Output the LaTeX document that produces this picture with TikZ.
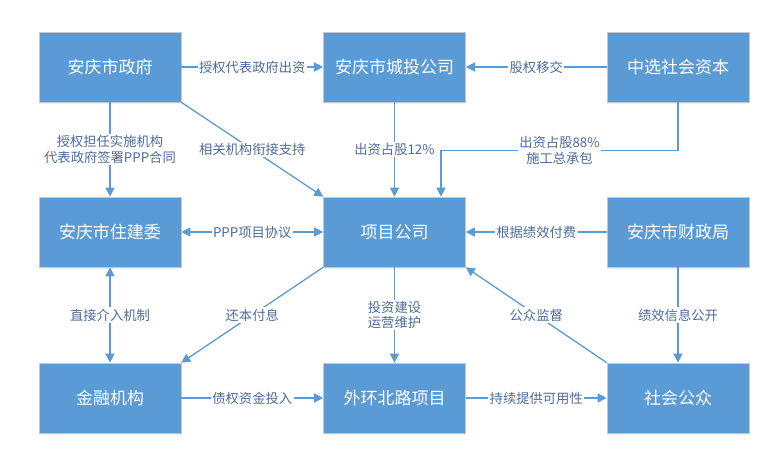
\documentclass[tikz,border=0pt]{standalone}
\usepackage{fontspec}
\setmainfont{Noto Sans CJK SC}
\usepackage{xcolor}
\usetikzlibrary{positioning,arrows.meta,shadows,calc}

\definecolor{boxblue}{HTML}{5B9BD5}
\definecolor{boxline}{HTML}{C0C8D2}
\definecolor{lbltext}{HTML}{4E6B9C}

\tikzset{
  party/.style={rectangle, fill=boxblue, draw=boxline, line width=0.6pt,
    minimum width=142pt, minimum height=70pt, inner sep=0pt,
    text=white, font=\fontsize{17}{20}\selectfont,
    drop shadow={opacity=0.12, shadow xshift=0pt, shadow yshift=-2pt}},
  flow/.style={draw=boxblue, line width=1.3pt,
    -{Triangle[length=9pt,width=9pt]}},
  twoway/.style={flow, {Triangle[length=9pt,width=9pt]}-{Triangle[length=9pt,width=9pt]}},
  tag/.style={fill=white, inner sep=1.5pt, text=lbltext, align=center,
    font=\fontsize{13.3}{15.5}\selectfont}
}

\begin{document}
\begin{tikzpicture}[x=1pt, y=-1pt]
  \useasboundingbox (0,0) rectangle (780,466);

  % Parties
  \node[party] (gov)  at (110, 67)   {安庆市政府};
  \node[party] (ctic) at (394.5, 67) {安庆市城投公司};
  \node[party] (soc)  at (678, 67)   {中选社会资本};
  \node[party] (hud)  at (110, 232)  {安庆市住建委};
  \node[party] (spv)  at (394.5, 232) {项目公司};
  \node[party] (fin)  at (678, 232)  {安庆市财政局};
  \node[party] (bank) at (110, 398)  {金融机构};
  \node[party] (road) at (394.5, 398) {外环北路项目};
  \node[party] (pub)  at (678, 398)  {社会公众};

  % Top row
  \draw[flow] (gov) -- (ctic) node[tag, midway] {授权代表政府出资};
  \draw[flow] (soc) -- (ctic) node[tag, midway] {股权移交};

  % Top to middle
  \draw[flow] (gov) -- (hud) node[tag, midway] {授权担任实施机构\\代表政府签署PPP合同};
  \draw[flow] (gov.south east) -- (spv.north west) node[tag, midway] {相关机构衔接支持};
  \draw[flow] (ctic) -- (spv) node[tag, midway] {出资占股12\%};
  \draw[flow] (soc.south) -- ++(0,48) -| ([xshift=46.5pt]spv.north)
    node[tag, pos=0.25] {出资占股88\%\\施工总承包};

  % Middle row
  \draw[twoway] (hud) -- (spv) node[tag, midway] {PPP项目协议};
  \draw[flow] (fin) -- (spv) node[tag, midway] {根据绩效付费};

  % Middle to bottom
  \draw[twoway] (hud) -- (bank) node[tag, midway] {直接介入机制};
  \draw[flow] (spv.south west) -- (bank.north east) node[tag, midway] {还本付息};
  \draw[flow] (spv) -- (road) node[tag, midway] {投资建设\\运营维护};
  \draw[flow] (pub.north west) -- (spv.south east) node[tag, midway] {公众监督};
  \draw[flow] (fin) -- (pub) node[tag, midway] {绩效信息公开};

  % Bottom row
  \draw[flow] (bank) -- (road) node[tag, midway] {债权资金投入};
  \draw[flow] (road) -- (pub) node[tag, midway] {持续提供可用性};

\end{tikzpicture}
\end{document}
